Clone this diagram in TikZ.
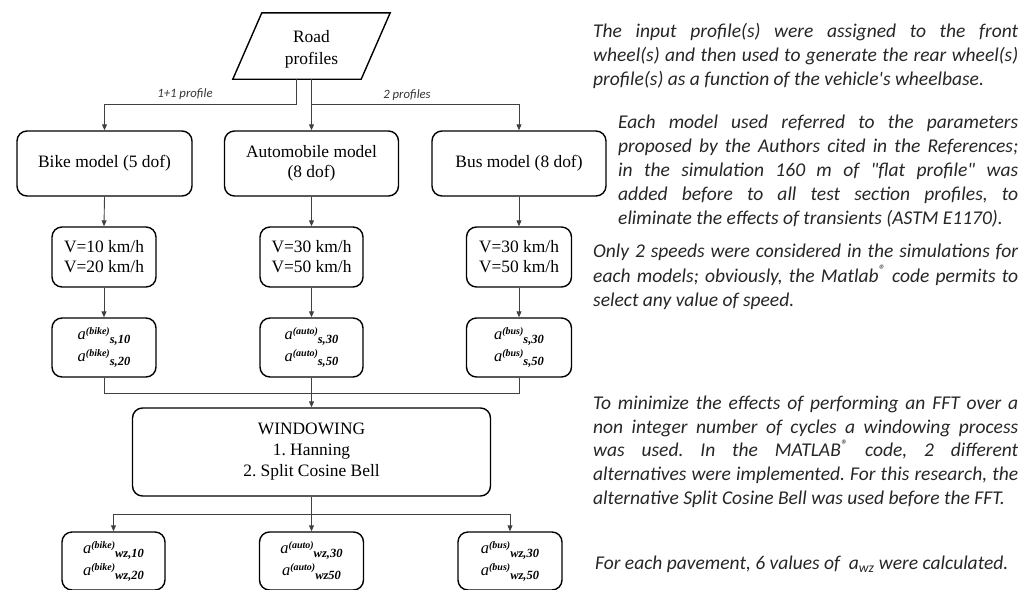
\documentclass[tikz,border=0pt]{standalone}
\usepackage{fontspec}
\setmainfont{Liberation Serif}
\newfontfamily\calib{Carlito}
\usetikzlibrary{arrows.meta,calc}
\frenchspacing
\newcommand{\accv}[2]{{\fontsize{16.5}{16}\selectfont\itshape a}\raisebox{5pt}{\fontsize{10}{10}\selectfont\bfseries\itshape (#1)}\raisebox{-4pt}{\fontsize{12.5}{12.5}\selectfont\bfseries\itshape #2}}
\tikzset{
 box/.style={draw=black, line width=1.4pt, rounded corners=10pt, align=center, inner sep=0pt, font=\fontsize{17.4}{20}\selectfont},
 accbox/.style={box, font=\fontsize{16}{22}\selectfont},
 conn/.style={draw=black!75, line width=0.9pt, -{Triangle[length=6pt,width=5pt]}},
 plain/.style={draw=black!75, line width=0.9pt},
 note/.style={font=\calib\itshape\fontsize{19.5}{23.8}\selectfont, inner sep=0pt, anchor=north west, align=justify, text=black!85},
 elabel/.style={font=\calib\itshape\fontsize{12.7}{14}\selectfont, inner sep=0pt, text=black!80},
}
\begin{document}
\begin{tikzpicture}[x=1pt,y=1pt]
\useasboundingbox (0,0) rectangle (1035,-589);
\hyphenpenalty=10000
% road profiles
\node[minimum width=128pt, minimum height=66pt, inner sep=0pt] (road) at (311.5,-46) {};
\draw[line width=1.4pt] ([xshift=14.5pt]road.north west) -- ([xshift=14.5pt]road.north east) -- ([xshift=-14.5pt]road.south east) -- ([xshift=-14.5pt]road.south west) -- cycle;
\node[inner sep=0pt, align=center, font=\fontsize{17.4}{22}\selectfont] (roadlbl) at (311.5,-49) {Road\\profiles};
% models
\node[box, minimum width=175pt, minimum height=65pt] (bike) at (104.5,-163.5) {Bike model (5 dof)};
\node[box, minimum width=174pt, minimum height=65pt] (auto) at (311.5,-163.5) {Automobile model\\(8 dof)};
\node[box, minimum width=174pt, minimum height=65pt] (bus) at (519,-163.5) {Bus model (8 dof)};
% speeds
\node[box, minimum width=104pt, minimum height=60pt] (bikev) at (104,-257) {V=10 km/h\\V=20 km/h};
\node[box, minimum width=103pt, minimum height=60pt] (autov) at (311.5,-257) {V=30 km/h\\V=50 km/h};
\node[box, minimum width=105pt, minimum height=60pt] (busv) at (519,-257) {V=30 km/h\\V=50 km/h};
% accelerations
\node[accbox, minimum width=104pt, minimum height=59pt] (bikea) at (104,-347.5) {\accv{bike}{s,10}\\\accv{bike}{s,20}};
\node[accbox, minimum width=103pt, minimum height=59pt] (autoa) at (311.5,-347.5) {\accv{auto}{s,30}\\\accv{auto}{s,50}};
\node[accbox, minimum width=105pt, minimum height=59pt] (busa) at (519,-347.5) {\accv{bus}{s,30}\\\accv{bus}{s,50}};
% windowing
\node[box, font=\fontsize{17.4}{21}\selectfont, minimum width=358pt, minimum height=88pt] (win) at (311.5,-452) {WINDOWING\\1. Hanning\\2. Split Cosine Bell};
% weighted
\node[accbox, minimum width=103pt, minimum height=58pt] (bikew) at (113.5,-561) {\accv{bike}{wz,10}\\\accv{bike}{wz,20}};
\node[accbox, minimum width=104pt, minimum height=58pt] (autow) at (311.5,-561) {\accv{auto}{wz,30}\\\accv{auto}{wz50}};
\node[accbox, minimum width=104pt, minimum height=58pt] (busw) at (510,-561) {\accv{bus}{wz,30}\\\accv{bus}{wz,50}};
% connectors
\draw[conn] ([xshift=-15.5pt]road.south) -- ++(0,-25) -| (bike.north);
\draw[conn] (road.south) -- (auto.north);
\draw[conn] (road.south) ++(0,-25) -| (bus.north);
\node[elabel] (l1) at (185,-94) {1+1 profile};
\node[elabel] (l2) at (407,-95) {2 profiles};
\draw[conn] (bike.south) -- (bikev.north);
\draw[conn] (auto.south) -- (autov.north);
\draw[conn] (bus.south) -- (busv.north);
\draw[conn] (bikev.south) -- (bikea.north);
\draw[conn] (autov.south) -- (autoa.north);
\draw[conn] (busv.south) -- (busa.north);
\coordinate (m1) at (311.5,-393);
\draw[plain] (bikea.south) |- (m1);
\draw[plain] (busa.south) |- (m1);
\draw[conn] (autoa.south) -- (win.north);
\coordinate (m2) at (311.5,-514);
\draw[conn] (win.south) -- (autow.north);
\draw[conn] (m2) -| (bikew.north);
\draw[conn] (m2) -| (busw.north);
% notes
\node[note, text width=425pt] (p1) at (593,-21) {\strut The input profile(s) were assigned to the front\linebreak wheel(s) and then used to generate the rear wheel(s)\linebreak profile(s) as a function of the vehicle's wheelbase.};
\node[note, text width=400pt] (p2) at (618,-112) {\strut Each model used referred to the parameters\linebreak proposed by the Authors cited in the References;\linebreak in the simulation 160 m of "flat profile" was\linebreak added before to all test section profiles, to\linebreak eliminate the effects of transients (ASTM E1170).};
\node[note, text width=425pt] (p3) at (593,-240.5) {\strut Only 2 speeds were considered in the simulations for\linebreak each models; obviously, the Matlab\textsuperscript{®} code permits to\linebreak select any value of speed.};
\node[note, text width=425pt] (p4) at (593,-392.5) {\strut To minimize the effects of performing an FFT over a\linebreak non integer number of cycles a windowing process\linebreak was used. In the MATLAB\textsuperscript{®} code, 2 different\linebreak alternatives were implemented. For this research, the\linebreak alternative Split Cosine Bell was used before the FFT.};
\node[font=\calib\itshape\fontsize{19.5}{23.8}\selectfont, inner sep=0pt, anchor=base west, text=black!85] (p5) at (595,-569.5) {For each pavement, 6 values of \ a\textsubscript{wz} were calculated.};
\end{tikzpicture}
\end{document}
